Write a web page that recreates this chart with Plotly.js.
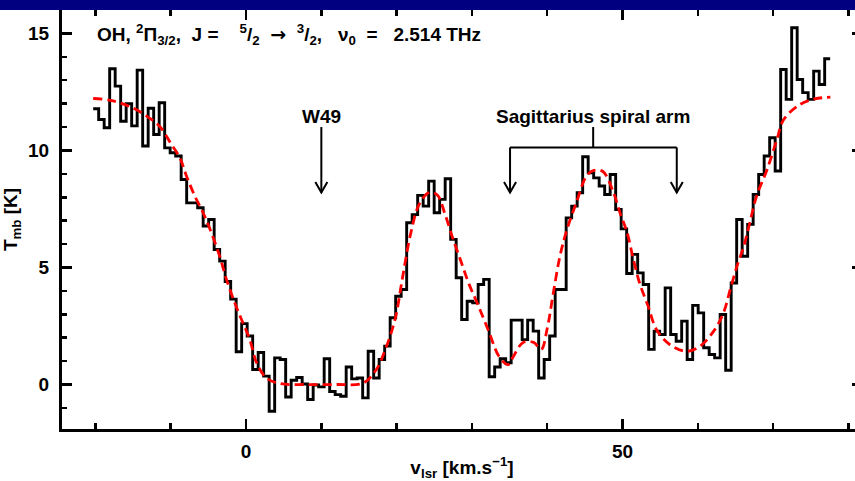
<!DOCTYPE html>
<html><head><meta charset="utf-8">
<script src="https://cdn.plot.ly/plotly-3.0.1.min.js"></script>
<style>
html,body{margin:0;padding:0;overflow:hidden;background:#fff;width:855px;height:481px}
#plot{position:absolute;left:0;top:0}
#band{position:absolute;left:0;top:0;width:855px;height:10px;background:#000080;z-index:10}
</style></head>
<body><div id="plot"></div><div id="band"></div>
<script>
// Spectrum channels: first channel left edge and channel width (km/s)
const vStart = -20.3;
const dv = 0.7304;
// Measured main-beam temperature per channel (K)
const tmb = [
 11.78, 11.32, 10.97, 13.49, 12.75, 11.25, 12.0, 11.05, 13.43, 10.19,
 11.8, 10.68, 12.04, 10.11, 9.9, 9.76, 8.76, 7.76, 7.76, 7.55,
 6.77, 7.05, 5.77, 5.27, 4.4, 3.65, 1.4, 2.6, 2.07, 0.64,
 1.37, 0.36, -1.14, 1.14, 1.07, -0.53, 0.18, 0.3, 0.02, -0.64,
 -0.02, -0.1, 1.1, -0.3, -0.43, -0.5, 0.75, 0.24, 0.28, -0.57,
 1.42, 0.28, 1.07, 1.64, 2.85, 3.77, 4.06, 6.91, 7.26, 8.08,
 7.62, 8.69, 7.34, 7.91, 8.79, 6.2, 4.56, 2.78, 3.56, 3.49,
 4.27, 4.49, 0.33, 0.75, 1.1, 0.93, 2.75, 2.75, 1.92, 2.75,
 2.28, 0.28, 1.07, 2.07, 4.06, 4.06, 7.12, 7.62, 8.19, 9.73,
 9.04, 8.83, 8.48, 8.12, 8.97, 7.48, 6.65, 4.74, 5.56, 4.77,
 4.27, 1.5, 2.28, 2.14, 4.13, 2.14, 1.85, 2.71, 1.07, 3.38,
 3.06, 1.57, 1.28, 1.14, 2.99, 0.61, 4.34, 7.05, 5.48, 6.84,
 8.12, 8.97, 9.76, 10.54, 9.12, 13.46, 12.18, 15.24, 13.03, 12.47,
 12.18, 13.39, 12.82, 13.92
];
// Fitted model (red dashed)
const fitV = [-20.3, -18.0, -15.4, -13.2, -11.4, -10.0, -8.8, -7.9, -6.8, -5.7, -4.6, -3.5, -2.6, -1.5, -0.6, 0.5, 1.4, 2.7, 4.5, 8.0, 12.0, 15.6, 17.3, 18.5, 19.8, 20.8, 21.9, 23.0, 24.3, 25.4, 26.4, 27.4, 28.5, 29.6, 30.8, 32.2, 33.6, 34.8, 35.5, 36.8, 38.2, 39.2, 40.0, 40.8, 41.7, 42.6, 43.9, 45.2, 46.2, 47.4, 48.8, 49.7, 50.6, 51.4, 52.3, 53.4, 54.5, 56.3, 58.5, 60.3, 62.1, 63.4, 64.3, 65.2, 66.1, 66.9, 67.8, 69.2, 70.5, 71.4, 73.6, 75.5, 77.6];
const fitT = [12.22, 12.14, 11.87, 11.47, 11.0, 10.3, 9.69, 8.9, 8.05, 7.34, 6.48, 5.48, 4.49, 3.49, 2.78, 1.92, 0.93, 0.28, 0.04, 0.0, 0.0, 0.07, 0.64, 1.5, 2.8, 4.6, 6.5, 7.7, 8.2, 8.1, 7.3, 6.3, 5.3, 4.3, 3.4, 2.3, 1.2, 0.85, 1.2, 1.8, 1.8, 1.5, 2.4, 3.9, 5.5, 6.6, 7.8, 8.9, 9.15, 9.1, 8.2, 7.3, 6.5, 5.4, 4.3, 3.35, 2.35, 1.7, 1.42, 1.64, 2.28, 3.06, 4.06, 5.06, 5.91, 6.91, 8.05, 9.19, 10.47, 11.32, 11.97, 12.2, 12.28];

// Texts
const S = "\u00A0";
const headerText = "OH," + S + "<sup>2</sup>Π<sub>3/2</sub>," + S + S + "J" + S + "=" + S + S + S + S +
  "<sup>5</sup>/<sub>2</sub>" + S + S + "<span style=\"font-family:DejaVu Sans\">→</span>" + S + S + "<sup>3</sup>/<sub>2</sub>," + S + S + S +
  "ν<sub>0</sub>" + S + S + "=" + S + S + S + "2.514" + S + "THz";
const xTitle = "v<sub>lsr</sub> [km.s<sup>−1</sup>]";
const yTitle = "T<sub>mb</sub> [K]";
const w49Label = "W49";
const sgrLabel = "Sagittarius spiral arm";
// Annotation anchor velocities / temperatures
const w49V = 10.0;
const sgrV = 46.1, sgrLeftV = 35.06, sgrRightV = 57.2;
const labelT = 11.43, stemTopT = 11.0, bracketT = 10.13, tipT = 8.2;
const headHalfV = 0.8, headT = 0.45;

// build step edges
const edges = tmb.map((_, i) => vStart + i * dv);
edges.push(vStart + tmb.length * dv);
const stepT = tmb.concat([tmb[tmb.length - 1]]);

const FONT = "Liberation Sans, Arial, sans-serif";
const traces = [
  {x: edges, y: stepT, type: 'scatter', mode: 'lines', line: {shape: 'hv', color: '#000', width: 2.9}, hoverinfo: 'skip'},
  {x: fitV, y: fitT, type: 'scatter', mode: 'lines', line: {shape: 'spline', color: '#ff0000', width: 2.8, dash: '9px,5px'}, hoverinfo: 'skip'}
];

const lineStyle = {color: '#000', width: 2};
function arrowShapes(v, t0, t1) {
  return [
    {type: 'line', xref: 'x', yref: 'y', x0: v, x1: v, y0: t0, y1: t1, line: lineStyle},
    {type: 'path', xref: 'x', yref: 'y', line: lineStyle,
      path: `M ${v - headHalfV},${t1 + headT} L ${v},${t1} L ${v + headHalfV},${t1 + headT}`}
  ];
}

const layout = {
  width: 866, height: 481,
  margin: {l: 62, r: 4, t: 10, b: 52},
  paper_bgcolor: '#fff', plot_bgcolor: '#fff',
  showlegend: false,
  font: {family: FONT, color: '#000', size: 19, weight: 'bold'},
  xaxis: {
    range: [-24.44, 81.8], showgrid: false, zeroline: false,
    showline: true, linecolor: '#000', linewidth: 3, mirror: 'allticks',
    ticks: 'inside', tick0: 0, dtick: 50, ticklen: 10, tickwidth: 2.5, tickcolor: '#000',
    minor: {ticks: 'inside', dtick: 10, tick0: 0, ticklen: 6, tickwidth: 2.5, tickcolor: '#000', showgrid: false},
    tickfont: {family: FONT, size: 19, weight: 'bold', color: '#000'},
    ticklabelstandoff: 3,
    title: {text: xTitle, font: {family: FONT, size: 19, weight: 'bold', color: '#000'}, standoff: 9}
  },
  yaxis: {
    range: [-1.9, 16.0], showgrid: false, zeroline: false,
    showline: true, linecolor: '#000', linewidth: 3, mirror: 'allticks',
    ticks: 'inside', tick0: 0, dtick: 5, ticklen: 10, tickwidth: 2.5, tickcolor: '#000',
    minor: {ticks: 'inside', dtick: 1, tick0: 0, ticklen: 5, tickwidth: 2.5, tickcolor: '#000', showgrid: false},
    tickfont: {family: FONT, size: 19, weight: 'bold', color: '#000'},
    ticklabelstandoff: 6,
    title: {text: yTitle, font: {family: FONT, size: 19, weight: 'bold', color: '#000'}, standoff: 8}
  },
  shapes: [
    {type: 'line', xref: 'x', yref: 'y', x0: sgrV, x1: sgrV, y0: stemTopT, y1: bracketT, line: lineStyle},
    {type: 'line', xref: 'x', yref: 'y', x0: sgrLeftV, x1: sgrRightV, y0: bracketT, y1: bracketT, line: lineStyle},
    ...arrowShapes(w49V, stemTopT, tipT),
    ...arrowShapes(sgrLeftV, bracketT, tipT),
    ...arrowShapes(sgrRightV, bracketT, tipT)
  ],
  annotations: [
    {x: -20.05, y: 14.95, xref: 'x', yref: 'y', xanchor: 'left', yanchor: 'middle', text: headerText, showarrow: false,
      font: {family: FONT, size: 19, weight: 'bold', color: '#000'}},
    {x: w49V, y: labelT, xref: 'x', yref: 'y', text: w49Label, showarrow: false, font: {family: FONT, size: 19, weight: 'bold', color: '#000'}},
    {x: sgrV, y: labelT, xref: 'x', yref: 'y', text: sgrLabel, showarrow: false, font: {family: FONT, size: 19, weight: 'bold', color: '#000'}}
  ]
};

Plotly.newPlot('plot', traces, layout, {staticPlot: true, displayModeBar: false});
</script>
</body></html>
